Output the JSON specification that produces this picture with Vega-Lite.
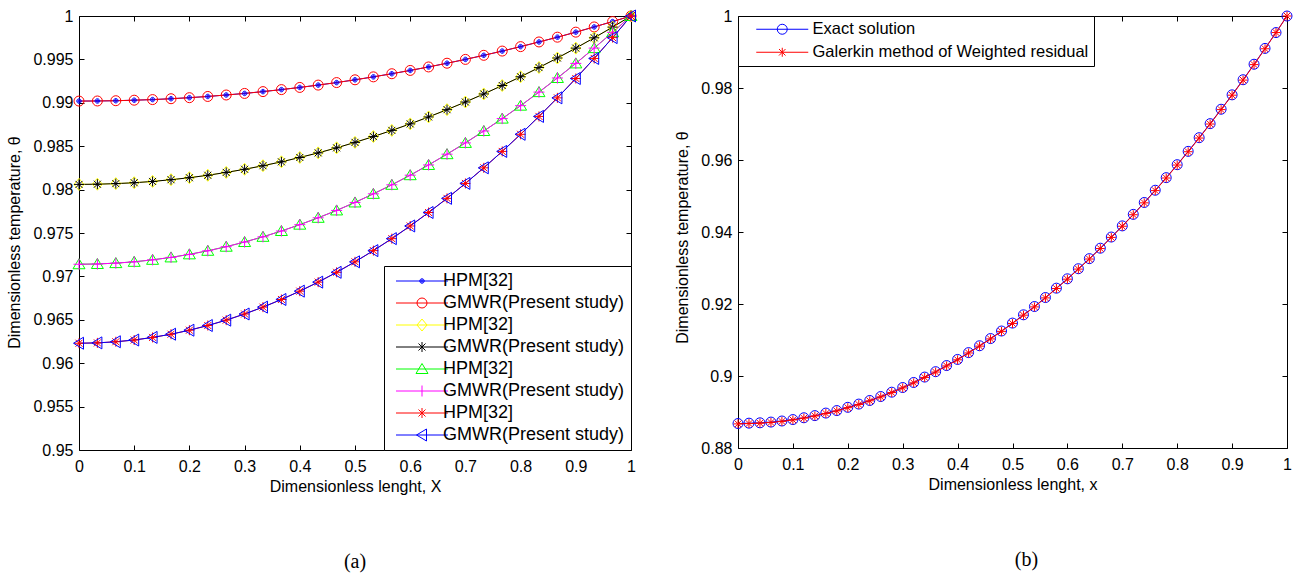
{
  "$schema": "https://vega.github.io/schema/vega-lite/v6.json",
  "background": "white",
  "padding": {"left": 6, "top": 7, "right": 4, "bottom": 0},
  "spacing": 34,
  "resolve": {
    "scale": {"color": "independent"},
    "legend": {"color": "independent"}
  },
  "config": {
    "font": "Liberation Sans",
    "view": {"stroke": "black", "strokeWidth": 1},
    "axis": {
      "domain": false, "grid": false,
      "tickColor": "black", "tickSize": -5, "tickWidth": 1,
      "labelFont": "Liberation Sans", "labelFontSize": 16, "labelColor": "black",
      "labelFlush": false, "labelOverlap": false,
      "titleFont": "Liberation Sans", "titleFontSize": 16, "titleFontWeight": "normal", "titleColor": "black"
    },
    "axisBottom": {"labelPadding": 13, "titlePadding": 4},
    "axisLeft": {"labelPadding": 11, "titlePadding": 10},
    "legend": {
      "title": null, "labelFont": "Liberation Sans", "labelFontSize": 16, "labelColor": "black", "labelLimit": 0,
      "strokeColor": "black", "fillColor": "white", "padding": 8, "rowPadding": 6,
      "symbolSize": 100, "symbolStrokeWidth": 1, "symbolOffset": 23, "labelOffset": 5,
      "offset": 0, "cornerRadius": 0
    },
    "title": {"font": "Liberation Serif", "fontSize": 20, "fontWeight": "normal", "color": "black"}
  },
  "datasets": {
    "left": [
      {"s":"a1","x":0,"t":0.9902},{"s":"a1","x":0.0333,"t":0.99021},{"s":"a1","x":0.0667,"t":0.99024},{"s":"a1","x":0.1,"t":0.9903},{"s":"a1","x":0.1333,"t":0.99037},{"s":"a1","x":0.1667,"t":0.99047},{"s":"a1","x":0.2,"t":0.99059},{"s":"a1","x":0.2333,"t":0.99073},{"s":"a1","x":0.2667,"t":0.9909},{"s":"a1","x":0.3,"t":0.99108},{"s":"a1","x":0.3333,"t":0.99129},{"s":"a1","x":0.3667,"t":0.99152},{"s":"a1","x":0.4,"t":0.99177},{"s":"a1","x":0.4333,"t":0.99204},{"s":"a1","x":0.4667,"t":0.99233},{"s":"a1","x":0.5,"t":0.99265},{"s":"a1","x":0.5333,"t":0.99299},{"s":"a1","x":0.5667,"t":0.99335},{"s":"a1","x":0.6,"t":0.99373},{"s":"a1","x":0.6333,"t":0.99413},{"s":"a1","x":0.6667,"t":0.99456},{"s":"a1","x":0.7,"t":0.995},{"s":"a1","x":0.7333,"t":0.99547},{"s":"a1","x":0.7667,"t":0.99596},{"s":"a1","x":0.8,"t":0.99647},{"s":"a1","x":0.8333,"t":0.99701},{"s":"a1","x":0.8667,"t":0.99756},{"s":"a1","x":0.9,"t":0.99814},{"s":"a1","x":0.9333,"t":0.99874},{"s":"a1","x":0.9667,"t":0.99936},{"s":"a1","x":1,"t":1},
      {"s":"b1","x":0,"t":0.9902},{"s":"b1","x":0.0333,"t":0.99021},{"s":"b1","x":0.0667,"t":0.99024},{"s":"b1","x":0.1,"t":0.9903},{"s":"b1","x":0.1333,"t":0.99037},{"s":"b1","x":0.1667,"t":0.99047},{"s":"b1","x":0.2,"t":0.99059},{"s":"b1","x":0.2333,"t":0.99073},{"s":"b1","x":0.2667,"t":0.9909},{"s":"b1","x":0.3,"t":0.99108},{"s":"b1","x":0.3333,"t":0.99129},{"s":"b1","x":0.3667,"t":0.99152},{"s":"b1","x":0.4,"t":0.99177},{"s":"b1","x":0.4333,"t":0.99204},{"s":"b1","x":0.4667,"t":0.99233},{"s":"b1","x":0.5,"t":0.99265},{"s":"b1","x":0.5333,"t":0.99299},{"s":"b1","x":0.5667,"t":0.99335},{"s":"b1","x":0.6,"t":0.99373},{"s":"b1","x":0.6333,"t":0.99413},{"s":"b1","x":0.6667,"t":0.99456},{"s":"b1","x":0.7,"t":0.995},{"s":"b1","x":0.7333,"t":0.99547},{"s":"b1","x":0.7667,"t":0.99596},{"s":"b1","x":0.8,"t":0.99647},{"s":"b1","x":0.8333,"t":0.99701},{"s":"b1","x":0.8667,"t":0.99756},{"s":"b1","x":0.9,"t":0.99814},{"s":"b1","x":0.9333,"t":0.99874},{"s":"b1","x":0.9667,"t":0.99936},{"s":"b1","x":1,"t":1},
      {"s":"a2","x":0,"t":0.9806},{"s":"a2","x":0.0333,"t":0.98062},{"s":"a2","x":0.0667,"t":0.98069},{"s":"a2","x":0.1,"t":0.98079},{"s":"a2","x":0.1333,"t":0.98094},{"s":"a2","x":0.1667,"t":0.98114},{"s":"a2","x":0.2,"t":0.98137},{"s":"a2","x":0.2333,"t":0.98165},{"s":"a2","x":0.2667,"t":0.98198},{"s":"a2","x":0.3,"t":0.98234},{"s":"a2","x":0.3333,"t":0.98275},{"s":"a2","x":0.3667,"t":0.9832},{"s":"a2","x":0.4,"t":0.9837},{"s":"a2","x":0.4333,"t":0.98423},{"s":"a2","x":0.4667,"t":0.98481},{"s":"a2","x":0.5,"t":0.98544},{"s":"a2","x":0.5333,"t":0.98611},{"s":"a2","x":0.5667,"t":0.98682},{"s":"a2","x":0.6,"t":0.98757},{"s":"a2","x":0.6333,"t":0.98837},{"s":"a2","x":0.6667,"t":0.98921},{"s":"a2","x":0.7,"t":0.99009},{"s":"a2","x":0.7333,"t":0.99102},{"s":"a2","x":0.7667,"t":0.99199},{"s":"a2","x":0.8,"t":0.993},{"s":"a2","x":0.8333,"t":0.99406},{"s":"a2","x":0.8667,"t":0.99516},{"s":"a2","x":0.9,"t":0.9963},{"s":"a2","x":0.9333,"t":0.99749},{"s":"a2","x":0.9667,"t":0.99872},{"s":"a2","x":1,"t":1},
      {"s":"b2","x":0,"t":0.9806},{"s":"b2","x":0.0333,"t":0.98062},{"s":"b2","x":0.0667,"t":0.98069},{"s":"b2","x":0.1,"t":0.98079},{"s":"b2","x":0.1333,"t":0.98094},{"s":"b2","x":0.1667,"t":0.98114},{"s":"b2","x":0.2,"t":0.98137},{"s":"b2","x":0.2333,"t":0.98165},{"s":"b2","x":0.2667,"t":0.98198},{"s":"b2","x":0.3,"t":0.98234},{"s":"b2","x":0.3333,"t":0.98275},{"s":"b2","x":0.3667,"t":0.9832},{"s":"b2","x":0.4,"t":0.9837},{"s":"b2","x":0.4333,"t":0.98423},{"s":"b2","x":0.4667,"t":0.98481},{"s":"b2","x":0.5,"t":0.98544},{"s":"b2","x":0.5333,"t":0.98611},{"s":"b2","x":0.5667,"t":0.98682},{"s":"b2","x":0.6,"t":0.98757},{"s":"b2","x":0.6333,"t":0.98837},{"s":"b2","x":0.6667,"t":0.98921},{"s":"b2","x":0.7,"t":0.99009},{"s":"b2","x":0.7333,"t":0.99102},{"s":"b2","x":0.7667,"t":0.99199},{"s":"b2","x":0.8,"t":0.993},{"s":"b2","x":0.8333,"t":0.99406},{"s":"b2","x":0.8667,"t":0.99516},{"s":"b2","x":0.9,"t":0.9963},{"s":"b2","x":0.9333,"t":0.99749},{"s":"b2","x":0.9667,"t":0.99872},{"s":"b2","x":1,"t":1},
      {"s":"a3","x":0,"t":0.9714},{"s":"a3","x":0.0333,"t":0.97143},{"s":"a3","x":0.0667,"t":0.97153},{"s":"a3","x":0.1,"t":0.97168},{"s":"a3","x":0.1333,"t":0.97191},{"s":"a3","x":0.1667,"t":0.97219},{"s":"a3","x":0.2,"t":0.97254},{"s":"a3","x":0.2333,"t":0.97295},{"s":"a3","x":0.2667,"t":0.97342},{"s":"a3","x":0.3,"t":0.97396},{"s":"a3","x":0.3333,"t":0.97456},{"s":"a3","x":0.3667,"t":0.97523},{"s":"a3","x":0.4,"t":0.97596},{"s":"a3","x":0.4333,"t":0.97675},{"s":"a3","x":0.4667,"t":0.9776},{"s":"a3","x":0.5,"t":0.97852},{"s":"a3","x":0.5333,"t":0.97951},{"s":"a3","x":0.5667,"t":0.98055},{"s":"a3","x":0.6,"t":0.98166},{"s":"a3","x":0.6333,"t":0.98284},{"s":"a3","x":0.6667,"t":0.98408},{"s":"a3","x":0.7,"t":0.98538},{"s":"a3","x":0.7333,"t":0.98675},{"s":"a3","x":0.7667,"t":0.98818},{"s":"a3","x":0.8,"t":0.98967},{"s":"a3","x":0.8333,"t":0.99123},{"s":"a3","x":0.8667,"t":0.99286},{"s":"a3","x":0.9,"t":0.99454},{"s":"a3","x":0.9333,"t":0.9963},{"s":"a3","x":0.9667,"t":0.99812},{"s":"a3","x":1,"t":1},
      {"s":"b3","x":0,"t":0.9714},{"s":"b3","x":0.0333,"t":0.97143},{"s":"b3","x":0.0667,"t":0.97153},{"s":"b3","x":0.1,"t":0.97168},{"s":"b3","x":0.1333,"t":0.97191},{"s":"b3","x":0.1667,"t":0.97219},{"s":"b3","x":0.2,"t":0.97254},{"s":"b3","x":0.2333,"t":0.97295},{"s":"b3","x":0.2667,"t":0.97342},{"s":"b3","x":0.3,"t":0.97396},{"s":"b3","x":0.3333,"t":0.97456},{"s":"b3","x":0.3667,"t":0.97523},{"s":"b3","x":0.4,"t":0.97596},{"s":"b3","x":0.4333,"t":0.97675},{"s":"b3","x":0.4667,"t":0.9776},{"s":"b3","x":0.5,"t":0.97852},{"s":"b3","x":0.5333,"t":0.97951},{"s":"b3","x":0.5667,"t":0.98055},{"s":"b3","x":0.6,"t":0.98166},{"s":"b3","x":0.6333,"t":0.98284},{"s":"b3","x":0.6667,"t":0.98408},{"s":"b3","x":0.7,"t":0.98538},{"s":"b3","x":0.7333,"t":0.98675},{"s":"b3","x":0.7667,"t":0.98818},{"s":"b3","x":0.8,"t":0.98967},{"s":"b3","x":0.8333,"t":0.99123},{"s":"b3","x":0.8667,"t":0.99286},{"s":"b3","x":0.9,"t":0.99454},{"s":"b3","x":0.9333,"t":0.9963},{"s":"b3","x":0.9667,"t":0.99812},{"s":"b3","x":1,"t":1},
      {"s":"a4","x":0,"t":0.9623},{"s":"a4","x":0.0333,"t":0.96234},{"s":"a4","x":0.0667,"t":0.96247},{"s":"a4","x":0.1,"t":0.96267},{"s":"a4","x":0.1333,"t":0.96297},{"s":"a4","x":0.1667,"t":0.96334},{"s":"a4","x":0.2,"t":0.9638},{"s":"a4","x":0.2333,"t":0.96434},{"s":"a4","x":0.2667,"t":0.96496},{"s":"a4","x":0.3,"t":0.96567},{"s":"a4","x":0.3333,"t":0.96646},{"s":"a4","x":0.3667,"t":0.96734},{"s":"a4","x":0.4,"t":0.9683},{"s":"a4","x":0.4333,"t":0.96934},{"s":"a4","x":0.4667,"t":0.97047},{"s":"a4","x":0.5,"t":0.97168},{"s":"a4","x":0.5333,"t":0.97297},{"s":"a4","x":0.5667,"t":0.97435},{"s":"a4","x":0.6,"t":0.97581},{"s":"a4","x":0.6333,"t":0.97736},{"s":"a4","x":0.6667,"t":0.97899},{"s":"a4","x":0.7,"t":0.98071},{"s":"a4","x":0.7333,"t":0.98251},{"s":"a4","x":0.7667,"t":0.9844},{"s":"a4","x":0.8,"t":0.98637},{"s":"a4","x":0.8333,"t":0.98843},{"s":"a4","x":0.8667,"t":0.99057},{"s":"a4","x":0.9,"t":0.9928},{"s":"a4","x":0.9333,"t":0.99511},{"s":"a4","x":0.9667,"t":0.99751},{"s":"a4","x":1,"t":1},
      {"s":"b4","x":0,"t":0.9623},{"s":"b4","x":0.0333,"t":0.96234},{"s":"b4","x":0.0667,"t":0.96247},{"s":"b4","x":0.1,"t":0.96267},{"s":"b4","x":0.1333,"t":0.96297},{"s":"b4","x":0.1667,"t":0.96334},{"s":"b4","x":0.2,"t":0.9638},{"s":"b4","x":0.2333,"t":0.96434},{"s":"b4","x":0.2667,"t":0.96496},{"s":"b4","x":0.3,"t":0.96567},{"s":"b4","x":0.3333,"t":0.96646},{"s":"b4","x":0.3667,"t":0.96734},{"s":"b4","x":0.4,"t":0.9683},{"s":"b4","x":0.4333,"t":0.96934},{"s":"b4","x":0.4667,"t":0.97047},{"s":"b4","x":0.5,"t":0.97168},{"s":"b4","x":0.5333,"t":0.97297},{"s":"b4","x":0.5667,"t":0.97435},{"s":"b4","x":0.6,"t":0.97581},{"s":"b4","x":0.6333,"t":0.97736},{"s":"b4","x":0.6667,"t":0.97899},{"s":"b4","x":0.7,"t":0.98071},{"s":"b4","x":0.7333,"t":0.98251},{"s":"b4","x":0.7667,"t":0.9844},{"s":"b4","x":0.8,"t":0.98637},{"s":"b4","x":0.8333,"t":0.98843},{"s":"b4","x":0.8667,"t":0.99057},{"s":"b4","x":0.9,"t":0.9928},{"s":"b4","x":0.9333,"t":0.99511},{"s":"b4","x":0.9667,"t":0.99751},{"s":"b4","x":1,"t":1}
    ],
    "right": [
      {"s":"e","x":0,"t":0.8868},{"s":"e","x":0.02,"t":0.8869},{"s":"e","x":0.04,"t":0.887},{"s":"e","x":0.06,"t":0.8872},{"s":"e","x":0.08,"t":0.8875},{"s":"e","x":0.1,"t":0.8879},{"s":"e","x":0.12,"t":0.8884},{"s":"e","x":0.14,"t":0.889},{"s":"e","x":0.16,"t":0.8897},{"s":"e","x":0.18,"t":0.8904},{"s":"e","x":0.2,"t":0.8913},{"s":"e","x":0.22,"t":0.8922},{"s":"e","x":0.24,"t":0.8932},{"s":"e","x":0.26,"t":0.8943},{"s":"e","x":0.28,"t":0.8955},{"s":"e","x":0.3,"t":0.8968},{"s":"e","x":0.32,"t":0.8982},{"s":"e","x":0.34,"t":0.8997},{"s":"e","x":0.36,"t":0.9012},{"s":"e","x":0.38,"t":0.9029},{"s":"e","x":0.4,"t":0.9046},{"s":"e","x":0.42,"t":0.9065},{"s":"e","x":0.44,"t":0.9084},{"s":"e","x":0.46,"t":0.9104},{"s":"e","x":0.48,"t":0.9125},{"s":"e","x":0.5,"t":0.9147},{"s":"e","x":0.52,"t":0.917},{"s":"e","x":0.54,"t":0.9193},{"s":"e","x":0.56,"t":0.9218},{"s":"e","x":0.58,"t":0.9244},{"s":"e","x":0.6,"t":0.927},{"s":"e","x":0.62,"t":0.9298},{"s":"e","x":0.64,"t":0.9326},{"s":"e","x":0.66,"t":0.9355},{"s":"e","x":0.68,"t":0.9386},{"s":"e","x":0.7,"t":0.9417},{"s":"e","x":0.72,"t":0.9449},{"s":"e","x":0.74,"t":0.9482},{"s":"e","x":0.76,"t":0.9516},{"s":"e","x":0.78,"t":0.9551},{"s":"e","x":0.8,"t":0.9587},{"s":"e","x":0.82,"t":0.9624},{"s":"e","x":0.84,"t":0.9662},{"s":"e","x":0.86,"t":0.9701},{"s":"e","x":0.88,"t":0.9741},{"s":"e","x":0.9,"t":0.9781},{"s":"e","x":0.92,"t":0.9823},{"s":"e","x":0.94,"t":0.9866},{"s":"e","x":0.96,"t":0.991},{"s":"e","x":0.98,"t":0.9954},{"s":"e","x":1,"t":1},
      {"s":"g","x":0,"t":0.8867},{"s":"g","x":0.02,"t":0.8868},{"s":"g","x":0.04,"t":0.8869},{"s":"g","x":0.06,"t":0.8871},{"s":"g","x":0.08,"t":0.8874},{"s":"g","x":0.1,"t":0.8878},{"s":"g","x":0.12,"t":0.8883},{"s":"g","x":0.14,"t":0.8889},{"s":"g","x":0.16,"t":0.8896},{"s":"g","x":0.18,"t":0.8903},{"s":"g","x":0.2,"t":0.8912},{"s":"g","x":0.22,"t":0.8921},{"s":"g","x":0.24,"t":0.8931},{"s":"g","x":0.26,"t":0.8942},{"s":"g","x":0.28,"t":0.8954},{"s":"g","x":0.3,"t":0.8967},{"s":"g","x":0.32,"t":0.8981},{"s":"g","x":0.34,"t":0.8996},{"s":"g","x":0.36,"t":0.9011},{"s":"g","x":0.38,"t":0.9028},{"s":"g","x":0.4,"t":0.9045},{"s":"g","x":0.42,"t":0.9064},{"s":"g","x":0.44,"t":0.9083},{"s":"g","x":0.46,"t":0.9103},{"s":"g","x":0.48,"t":0.9124},{"s":"g","x":0.5,"t":0.9146},{"s":"g","x":0.52,"t":0.9169},{"s":"g","x":0.54,"t":0.9192},{"s":"g","x":0.56,"t":0.9217},{"s":"g","x":0.58,"t":0.9243},{"s":"g","x":0.6,"t":0.9269},{"s":"g","x":0.62,"t":0.9297},{"s":"g","x":0.64,"t":0.9325},{"s":"g","x":0.66,"t":0.9354},{"s":"g","x":0.68,"t":0.9385},{"s":"g","x":0.7,"t":0.9416},{"s":"g","x":0.72,"t":0.9448},{"s":"g","x":0.74,"t":0.9481},{"s":"g","x":0.76,"t":0.9515},{"s":"g","x":0.78,"t":0.955},{"s":"g","x":0.8,"t":0.9586},{"s":"g","x":0.82,"t":0.9623},{"s":"g","x":0.84,"t":0.9661},{"s":"g","x":0.86,"t":0.97},{"s":"g","x":0.88,"t":0.974},{"s":"g","x":0.9,"t":0.978},{"s":"g","x":0.92,"t":0.9822},{"s":"g","x":0.94,"t":0.9865},{"s":"g","x":0.96,"t":0.9909},{"s":"g","x":0.98,"t":0.9954},{"s":"g","x":1,"t":1}
    ]
  },
  "hconcat": [
    {
      "width": 552,
      "height": 434,
      "data": {"name": "left"},
      "title": {"text": "(a)", "orient": "bottom", "frame": "group", "anchor": "middle", "offset": 58},
      "resolve": {"axis": {"x": "independent", "y": "independent"}},
      "layer": [
        {
          "mark": {"type": "line", "strokeWidth": 1},
          "encoding": {
            "x": {"field": "x", "type": "quantitative", "scale": {"domain": [0, 1], "nice": false, "zero": false},
                  "axis": {"orient": "top", "labels": false, "title": null, "values": [0,0.1,0.2,0.3,0.4,0.5,0.6,0.7,0.8,0.9,1]}},
            "y": {"field": "t", "type": "quantitative", "scale": {"domain": [0.95, 1], "nice": false, "zero": false},
                  "axis": {"orient": "right", "labels": false, "title": null, "values": [0.95,0.955,0.96,0.965,0.97,0.975,0.98,0.985,0.99,0.995,1]}},
            "color": {"field": "s", "type": "nominal",
                      "scale": {"domain": ["a1","b1","a2","b2","a3","b3","a4","b4"],
                                "range": ["#0000ff","#ff0000","#ffff00","#000000","#00ff00","#ff00ff","#ff0000","#0000ff"]},
                      "legend": {"orient": "bottom-right",
                                 "labelFontSize": 18, "padding": 6, "rowPadding": 4,
                                 "symbolOffset": 23, "labelOffset": 12,
                                 "labelExpr": "indexof(datum.value, 'a') == 0 ? 'HPM[32]' : 'GMWR(Present study)'",
                                 "encode": {"symbols": {"update": {
                                   "fill": {"value": "transparent"},
                                   "strokeWidth": {"value": 1},
                                   "shape": [
                                     {"test": "datum.value == 'a1'", "value": "M-5.2,0L5.2,0M-0.45,0A0.45,0.45,0,1,1,0.45,0A0.45,0.45,0,1,1,-0.45,0M-0.25,0A0.25,0.25,0,1,1,0.25,0A0.25,0.25,0,1,1,-0.25,0"},
                                     {"test": "datum.value == 'b1'", "value": "M-5.2,0L5.2,0M-1,0A1,1,0,1,1,1,0A1,1,0,1,1,-1,0"},
                                     {"test": "datum.value == 'a2'", "value": "M-5.2,0L5.2,0M0,-1.2L1,0L0,1.2L-1,0Z"},
                                     {"test": "datum.value == 'b2' || datum.value == 'a4'", "value": "M-5.2,0L5.2,0M0,-1L0,1M-0.7,-0.7L0.7,0.7M-0.7,0.7L0.7,-0.7"},
                                     {"test": "datum.value == 'a3'", "value": "M-5.2,0L5.2,0M0,-1.1L1.2,0.9L-1.2,0.9Z"},
                                     {"test": "datum.value == 'b3'", "value": "M-5.2,0L5.2,0M0,-1.1L0,1.1"},
                                     {"value": "M-5.2,0L5.2,0M-1.1,0L0.9,-1.2L0.9,1.2Z"}
                                   ]
                                 }}}}}
          }
        },
        {
          "transform": [{"filter": "datum.s == 'a1'"}],
          "mark": {"type": "point", "filled": false, "size": 100, "strokeWidth": 1, "opacity": 1, "color": "#0000ff",
                   "shape": "M-0.45,0A0.45,0.45,0,1,1,0.45,0A0.45,0.45,0,1,1,-0.45,0M-0.25,0A0.25,0.25,0,1,1,0.25,0A0.25,0.25,0,1,1,-0.25,0M-0.08,0A0.08,0.08,0,1,1,0.08,0A0.08,0.08,0,1,1,-0.08,0"},
          "encoding": {
            "x": {"field": "x", "type": "quantitative", "scale": {"domain": [0, 1], "nice": false, "zero": false},
                  "axis": {"orient": "bottom", "title": "Dimensionless lenght, X", "format": "~g", "values": [0,0.1,0.2,0.3,0.4,0.5,0.6,0.7,0.8,0.9,1]}},
            "y": {"field": "t", "type": "quantitative", "scale": {"domain": [0.95, 1], "nice": false, "zero": false},
                  "axis": {"orient": "left", "title": "Dimensionless temperature, θ", "format": "~g", "titleY": 226, "values": [0.95,0.955,0.96,0.965,0.97,0.975,0.98,0.985,0.99,0.995,1]}}
          }
        },
        {
          "transform": [{"filter": "datum.s == 'b1'"}],
          "mark": {"type": "point", "filled": false, "size": 100, "strokeWidth": 1, "opacity": 1, "color": "#ff0000",
                   "shape": "M-1,0A1,1,0,1,1,1,0A1,1,0,1,1,-1,0"},
          "encoding": {
            "x": {"field": "x", "type": "quantitative", "scale": {"domain": [0, 1], "nice": false, "zero": false}, "axis": null},
            "y": {"field": "t", "type": "quantitative", "scale": {"domain": [0.95, 1], "nice": false, "zero": false}, "axis": null}
          }
        },
        {
          "transform": [{"filter": "datum.s == 'a2'"}],
          "mark": {"type": "point", "filled": false, "size": 100, "strokeWidth": 1, "opacity": 1, "color": "#ffff00",
                   "shape": "M0,-1.2L1,0L0,1.2L-1,0Z"},
          "encoding": {
            "x": {"field": "x", "type": "quantitative", "scale": {"domain": [0, 1], "nice": false, "zero": false}, "axis": null},
            "y": {"field": "t", "type": "quantitative", "scale": {"domain": [0.95, 1], "nice": false, "zero": false}, "axis": null}
          }
        },
        {
          "transform": [{"filter": "datum.s == 'b2'"}],
          "mark": {"type": "point", "filled": false, "size": 100, "strokeWidth": 1, "opacity": 1, "color": "#000000",
                   "shape": "M-1,0L1,0M0,-1L0,1M-0.7,-0.7L0.7,0.7M-0.7,0.7L0.7,-0.7"},
          "encoding": {
            "x": {"field": "x", "type": "quantitative", "scale": {"domain": [0, 1], "nice": false, "zero": false}, "axis": null},
            "y": {"field": "t", "type": "quantitative", "scale": {"domain": [0.95, 1], "nice": false, "zero": false}, "axis": null}
          }
        },
        {
          "transform": [{"filter": "datum.s == 'a3'"}],
          "mark": {"type": "point", "filled": false, "size": 100, "strokeWidth": 1, "opacity": 1, "color": "#00ff00",
                   "shape": "M0,-1.1L1.2,0.9L-1.2,0.9Z"},
          "encoding": {
            "x": {"field": "x", "type": "quantitative", "scale": {"domain": [0, 1], "nice": false, "zero": false}, "axis": null},
            "y": {"field": "t", "type": "quantitative", "scale": {"domain": [0.95, 1], "nice": false, "zero": false}, "axis": null}
          }
        },
        {
          "transform": [{"filter": "datum.s == 'b3'"}],
          "mark": {"type": "point", "filled": false, "size": 100, "strokeWidth": 1, "opacity": 1, "color": "#ff00ff",
                   "shape": "M-1.1,0L1.1,0M0,-1.1L0,1.1"},
          "encoding": {
            "x": {"field": "x", "type": "quantitative", "scale": {"domain": [0, 1], "nice": false, "zero": false}, "axis": null},
            "y": {"field": "t", "type": "quantitative", "scale": {"domain": [0.95, 1], "nice": false, "zero": false}, "axis": null}
          }
        },
        {
          "transform": [{"filter": "datum.s == 'a4'"}],
          "mark": {"type": "point", "filled": false, "size": 100, "strokeWidth": 1, "opacity": 1, "color": "#ff0000",
                   "shape": "M-1,0L1,0M0,-1L0,1M-0.7,-0.7L0.7,0.7M-0.7,0.7L0.7,-0.7"},
          "encoding": {
            "x": {"field": "x", "type": "quantitative", "scale": {"domain": [0, 1], "nice": false, "zero": false}, "axis": null},
            "y": {"field": "t", "type": "quantitative", "scale": {"domain": [0.95, 1], "nice": false, "zero": false}, "axis": null}
          }
        },
        {
          "transform": [{"filter": "datum.s == 'b4'"}],
          "mark": {"type": "point", "filled": false, "size": 100, "strokeWidth": 1, "opacity": 1, "color": "#0000ff",
                   "shape": "M-1.1,0L0.9,-1.2L0.9,1.2Z"},
          "encoding": {
            "x": {"field": "x", "type": "quantitative", "scale": {"domain": [0, 1], "nice": false, "zero": false}, "axis": null},
            "y": {"field": "t", "type": "quantitative", "scale": {"domain": [0.95, 1], "nice": false, "zero": false}, "axis": null}
          }
        }
      ]
    },
    {
      "width": 549,
      "height": 432,
      "data": {"name": "right"},
      "title": {"text": "(b)", "orient": "bottom", "frame": "group", "anchor": "middle", "offset": 58, "dx": 14},
      "resolve": {"axis": {"x": "independent", "y": "independent"}},
      "layer": [
        {
          "transform": [{"filter": "datum.s == 'e'"}],
          "mark": {"type": "line", "strokeWidth": 1},
          "encoding": {
            "x": {"field": "x", "type": "quantitative", "scale": {"domain": [0, 1], "nice": false, "zero": false},
                  "axis": {"orient": "top", "labels": false, "title": null, "values": [0,0.1,0.2,0.3,0.4,0.5,0.6,0.7,0.8,0.9,1]}},
            "y": {"field": "t", "type": "quantitative", "scale": {"domain": [0.88, 1], "nice": false, "zero": false},
                  "axis": {"orient": "right", "labels": false, "title": null, "values": [0.88,0.9,0.92,0.94,0.96,0.98,1]}},
            "color": {"field": "s", "type": "nominal", "scale": {"domain": ["e","g"], "range": ["#0000ff","#ff0000"]},
                      "legend": {"orient": "top-left",
                                 "labelFontSize": 16.5, "padding": 5, "rowPadding": 6,
                                 "symbolOffset": 31, "labelOffset": 22,
                                 "labelExpr": "datum.value == 'e' ? 'Exact solution' : 'Galerkin method of Weighted residual'",
                                 "encode": {"symbols": {"update": {
                                   "fill": {"value": "transparent"},
                                   "strokeWidth": {"value": 1},
                                   "shape": [
                                     {"test": "datum.value == 'e'", "value": "M-5.2,0L5.2,0M-1,0A1,1,0,1,1,1,0A1,1,0,1,1,-1,0"},
                                     {"value": "M-5.2,0L5.2,0M0,-0.9L0,0.9M-0.65,-0.65L0.65,0.65M-0.65,0.65L0.65,-0.65"}
                                   ]
                                 }}}}}
          }
        },
        {
          "transform": [{"filter": "datum.s == 'e'"}],
          "mark": {"type": "point", "filled": false, "size": 100, "strokeWidth": 1, "opacity": 1, "color": "#0000ff",
                   "shape": "M-1,0A1,1,0,1,1,1,0A1,1,0,1,1,-1,0"},
          "encoding": {
            "x": {"field": "x", "type": "quantitative", "scale": {"domain": [0, 1], "nice": false, "zero": false},
                  "axis": {"orient": "bottom", "title": "Dimensionless lenght, x", "format": "~g", "values": [0,0.1,0.2,0.3,0.4,0.5,0.6,0.7,0.8,0.9,1]}},
            "y": {"field": "t", "type": "quantitative", "scale": {"domain": [0.88, 1], "nice": false, "zero": false},
                  "axis": {"orient": "left", "title": "Dimensionless temperature, θ", "format": "~g", "titleY": 221, "values": [0.88,0.9,0.92,0.94,0.96,0.98,1]}}
          }
        },
        {
          "transform": [{"filter": "datum.s == 'g'"}],
          "mark": {"type": "line", "strokeWidth": 1, "color": "#ff0000"},
          "encoding": {
            "x": {"field": "x", "type": "quantitative", "scale": {"domain": [0, 1], "nice": false, "zero": false}, "axis": null},
            "y": {"field": "t", "type": "quantitative", "scale": {"domain": [0.88, 1], "nice": false, "zero": false}, "axis": null}
          }
        },
        {
          "transform": [{"filter": "datum.s == 'g'"}],
          "mark": {"type": "point", "filled": false, "size": 100, "strokeWidth": 1, "opacity": 1, "color": "#ff0000",
                   "shape": "M-0.9,0L0.9,0M0,-0.9L0,0.9M-0.65,-0.65L0.65,0.65M-0.65,0.65L0.65,-0.65"},
          "encoding": {
            "x": {"field": "x", "type": "quantitative", "scale": {"domain": [0, 1], "nice": false, "zero": false}, "axis": null},
            "y": {"field": "t", "type": "quantitative", "scale": {"domain": [0.88, 1], "nice": false, "zero": false}, "axis": null}
          }
        }
      ]
    }
  ]
}
